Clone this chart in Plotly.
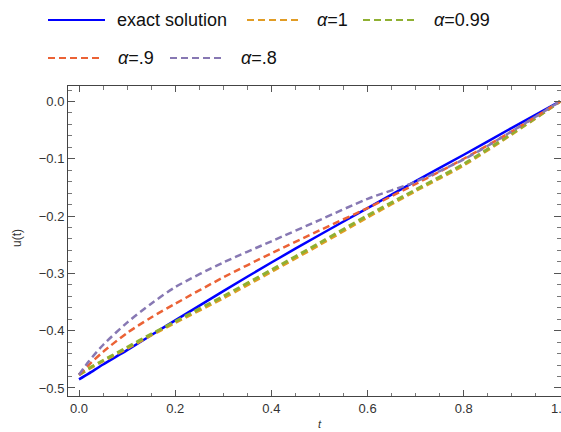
import plotly.graph_objects as go

# ---- data ----
t = [0.0, 0.02, 0.05, 0.1, 0.15, 0.2, 0.3, 0.4, 0.5, 0.6, 0.7, 0.8, 0.9, 1.0]
u_exact = [-0.485, -0.475, -0.459, -0.434, -0.408, -0.382, -0.331, -0.281, -0.233, -0.186, -0.139, -0.093, -0.046, 0.0]
u_a1 = [-0.477, -0.467, -0.453, -0.431, -0.408, -0.386, -0.343, -0.297, -0.250, -0.202, -0.156, -0.111, -0.057, 0.0]
u_a099 = [-0.477, -0.466, -0.452, -0.429, -0.406, -0.384, -0.340, -0.294, -0.247, -0.199, -0.154, -0.109, -0.056, 0.0]
u_a09 = [-0.477, -0.460, -0.437, -0.404, -0.377, -0.353, -0.307, -0.265, -0.225, -0.186, -0.144, -0.100, -0.052, 0.0]
u_a08 = [-0.477, -0.454, -0.425, -0.386, -0.353, -0.324, -0.281, -0.244, -0.207, -0.170, -0.140, -0.101, -0.052, 0.0]

names = ["exact solution", "<i>α</i>=1", "<i>α</i>=0.99", "<i>α</i>=.9", "<i>α</i>=.8"]
series = [u_exact, u_a1, u_a099, u_a09, u_a08]
colors = ["#0000FF", "#E19C24", "#8FB032", "#EB6235", "#8778B3"]
widths = [2.5, 3, 3, 2.5, 2.5]
dashes = ["solid", "7px,4px", "7px,4px", "7px,4px", "7px,4px"]

x_ticks = [0.0, 0.2, 0.4, 0.6, 0.8, 1.0]
x_ticklabels = ["0.0", "0.2", "0.4", "0.6", "0.8", "1.0"]
y_ticks = [0.0, -0.1, -0.2, -0.3, -0.4, -0.5]
y_ticklabels = ["0.0", "\u22120.1", "\u22120.2", "\u22120.3", "\u22120.4", "\u22120.5"]

# ---- figure ----
W, H = 561, 432
ML, MR, MT, MB = 68, 0, 86, 36
PW, PH = W - ML - MR, H - MT - MB

fig = go.Figure()
for y, nm, c, w, d in zip(series, names, colors, widths, dashes):
    fig.add_trace(go.Scatter(x=t, y=y, mode="lines", name=nm,
                             line=dict(color=c, width=w, dash=d, shape="spline", smoothing=0.8),
                             showlegend=False))

def px2paper_x(px):
    return (px - ML) / PW

def px2paper_y(py):
    return (MT + PH - py) / PH

# manual legend (two rows)
legend_items = [
    (0, 48, 105, 115, 20),
    (1, 247, 300, 315, 20),
    (2, 363, 417, 432, 20),
    (3, 48, 102, 116, 58),
    (4, 170, 225, 239, 58),
]
shapes = []
annotations = []
for idx, x0, x1, xt, yy in legend_items:
    shapes.append(dict(type="line", xref="paper", yref="paper",
                       x0=px2paper_x(x0), x1=px2paper_x(x1),
                       y0=px2paper_y(yy), y1=px2paper_y(yy),
                       line=dict(color=colors[idx], width=2, dash=dashes[idx])))
    annotations.append(dict(xref="paper", yref="paper", x=px2paper_x(xt), y=px2paper_y(yy),
                            text=names[idx], showarrow=False, xanchor="left", yanchor="middle",
                            font=dict(family="Liberation Sans, Arial", size=18, color="#111")))

annotations.append(dict(xref="x", yref="paper", x=0.5, y=px2paper_y(416), text="<i>t</i>",
                        showarrow=False, xanchor="center", yanchor="top",
                        font=dict(family="Liberation Sans, Arial", size=11, color="#333")))
annotations.append(dict(xref="paper", yref="paper", x=px2paper_x(17), y=px2paper_y(238), text="u(t)",
                        showarrow=False, xanchor="center", yanchor="middle", textangle=-90,
                        font=dict(family="Liberation Sans, Arial", size=12, color="#333")))

fig.update_layout(
    width=W, height=H,
    margin=dict(l=ML, r=MR, t=MT, b=MB, pad=0),
    paper_bgcolor="white", plot_bgcolor="white",
    shapes=shapes, annotations=annotations,
    font=dict(family="Liberation Sans, Arial", size=13, color="#333"),
)
fig.update_xaxes(range=[-11 / 481, 1 + 1 / 481], showgrid=False, zeroline=False, automargin=False,
                 tickvals=x_ticks, ticktext=x_ticklabels, ticklabeloverflow="allow",
                 ticks="inside", ticklen=6, tickcolor="#555", tickwidth=1,
                 minor=dict(dtick=0.05, tick0=0, ticks="inside", ticklen=3.5, tickcolor="#777", showgrid=False),
                 showline=True, linecolor="#444", linewidth=1, mirror="ticks",
                 tickfont=dict(size=13, color="#333"))
fig.update_yaxes(range=[-0.514, 0.027], showgrid=False, zeroline=False, automargin=False,
                 tickvals=y_ticks, ticktext=y_ticklabels,
                 ticks="inside", ticklen=7, tickcolor="#555", tickwidth=1,
                 minor=dict(dtick=0.02, tick0=0, ticks="inside", ticklen=4, tickcolor="#777", showgrid=False),
                 showline=True, linecolor="#444", linewidth=1, mirror="ticks",
                 tickfont=dict(size=13, color="#333"))

fig.write_html("out.html", config={"displayModeBar": False},
               post_script="document.body.style.margin='0';document.body.style.overflow='hidden';")
